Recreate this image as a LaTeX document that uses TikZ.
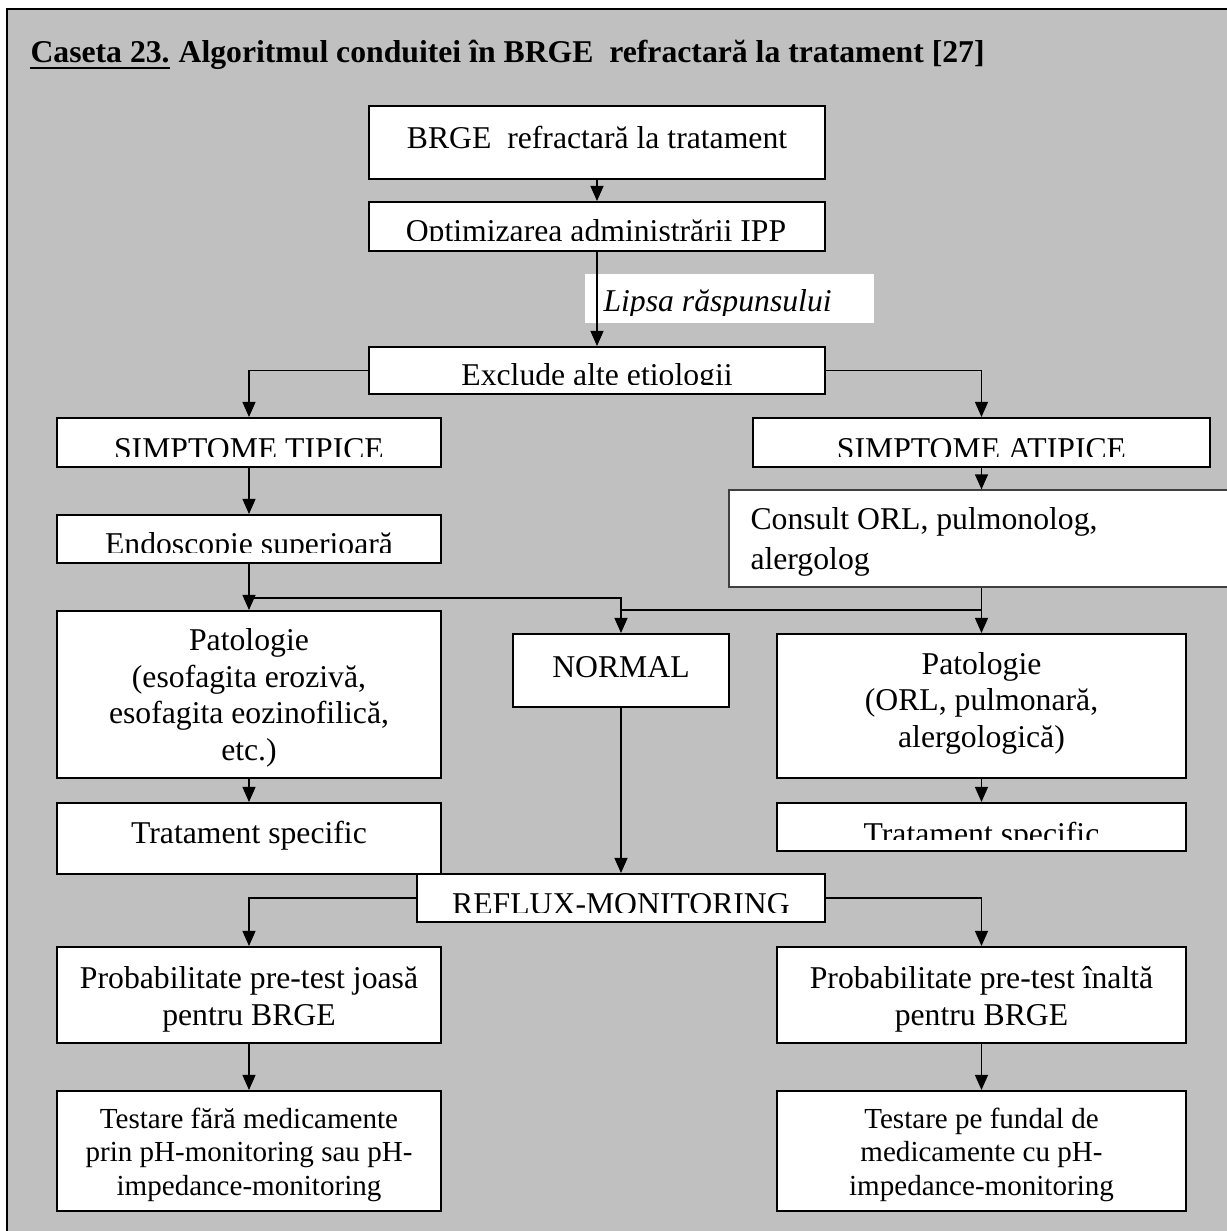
\documentclass[tikz,border=0pt]{standalone}
\usepackage{fontspec}
\setmainfont{Liberation Serif}
\usetikzlibrary{arrows.meta,fit}
\definecolor{bggray}{HTML}{C0C0C0}
\begin{document}
\begin{tikzpicture}[x=0.3785pt,y=-0.3785pt,
  frame/.style={fill=bggray,draw=black,line width=0.8pt},
  box/.style={draw=black,line width=0.75pt,fill=white,inner sep=0pt},
  thinbox/.style={draw=black!75,line width=0.45pt,fill=white,inner sep=0pt},
  txt/.style={inner sep=0pt,anchor=base,align=center,font=\fontsize{12}{13.8}\selectfont},
  smalltxt/.style={inner sep=0pt,anchor=base,align=center,font=\fontsize{11}{12.5}\selectfont},
  titletxt/.style={inner sep=0pt,anchor=base west,font=\bfseries\fontsize{12}{14}\selectfont},
  conn/.style={line width=0.55pt,-{Triangle[width=4.9pt,length=5.7pt]}},
  plain/.style={line width=0.55pt}]
\useasboundingbox (0,0) rectangle (1227,1231);
% outer frame
\path[frame] (7,9) rectangle (1245,1245);
% title
\node[titletxt] (cap) at (30,62) {Caseta 23.};
\node[titletxt] (ttl) at (cap.base east) {\ Algoritmul conduitei în BRGE\ \ refractară la tratament [27]};
\draw[line width=0.75pt] ([yshift=-2.3pt]cap.base west) -- ([yshift=-2.3pt]cap.base east);

% boxes
\node[box,fit={(369,106) (825,179)}] (b1) {};
\node[box,fit={(369,202) (825,251)}] (b2) {};
\node[fill=white,inner sep=0pt,fit={(585,274) (874,323)}] (lbl) {};
\node[box,fit={(369,347) (825,394)}] (b3) {};
\node[box,fit={(57,418) (441,467)}] (tipice) {};
\node[box,fit={(753,418) (1210,467)}] (atipice) {};
\node[box,fit={(57,515) (441,563)}] (endo) {};
\node[thinbox,fit={(729,490) (1245,587)}] (consult) {};
\node[box,fit={(57,611) (441,778)}] (patL) {};
\node[box,fit={(513,634) (729,707)}] (normal) {};
\node[box,fit={(777,634) (1186,778)}] (patR) {};
\node[box,fit={(57,803) (441,874)}] (tratL) {};
\node[box,fit={(777,803) (1186,851)}] (tratR) {};
\node[box,fit={(417,874) (825,922)}] (reflux) {};
\node[box,fit={(57,947) (441,1043)}] (probL) {};
\node[box,fit={(777,947) (1186,1043)}] (probR) {};
\node[box,fit={(57,1091) (441,1211)}] (testL) {};
\node[box,fit={(777,1091) (1186,1211)}] (testR) {};

% texts (multi-line nodes are anchored at the baseline of their last line)
\node[txt] (b1t) at (597,148) {BRGE\ \ refractară la tratament};
\begin{scope}
\clip (369,202) rectangle (825,240.5);
\node[txt] (b2t) at (596,241.5) {Optimizarea administrării IPP};
\end{scope}
\begin{scope}
\clip (585,274) rectangle (874,315);
\node[inner sep=0pt,anchor=base west,font=\itshape\fontsize{12}{14}\selectfont] (lblt) at (603,311) {Lipsa răspunsului};
\end{scope}
\begin{scope}
\clip (369,347) rectangle (825,384);
\node[txt] (b3t) at (597,385) {Exclude alte etiologii};
\end{scope}
\begin{scope}
\clip (57,418) rectangle (441,456.5);
\node[txt] (tipicet) at (249,459) {SIMPTOME TIPICE};
\end{scope}
\begin{scope}
\clip (753,418) rectangle (1210,456.5);
\node[txt] (atipicet) at (981.5,459) {SIMPTOME ATIPICE};
\end{scope}
\begin{scope}
\clip (57,515) rectangle (441,552);
\node[txt] (endot) at (249,554) {Endoscopie superioară};
\end{scope}
\node[inner sep=0pt,anchor=base west,align=left,font=\fontsize{12}{14.8}\selectfont] (consultt) at (750,569) {Consult ORL, pulmonolog,\\alergolog};
\node[txt] (patLt) at (249,760) {Patologie\\(esofagita erozivă,\\esofagita eozinofilică,\\etc.)};
\node[txt] (normalt) at (621,677) {NORMAL};
\node[txt] (patRt) at (981.5,747) {Patologie\\(ORL, pulmonară,\\alergologică)};
\node[txt] (tratLt) at (249,843) {Tratament specific};
\begin{scope}
\clip (777,803) rectangle (1186,839);
\node[txt] (tratRt) at (981.5,844) {Tratament specific};
\end{scope}
\begin{scope}
\clip (417,874) rectangle (825,912.5);
\node[txt] (refluxt) at (621,914) {REFLUX-MONITORING};
\end{scope}
\node[txt] (probLt) at (249,1025) {Probabilitate pre-test joasă\\pentru BRGE};
\node[txt] (probRt) at (981.5,1025) {Probabilitate pre-test înaltă\\pentru BRGE};
\node[smalltxt] (testLt) at (249,1195) {Testare fără medicamente\\prin pH-monitoring sau pH-\\impedance-monitoring};
\node[smalltxt] (testRt) at (981.5,1195) {Testare pe fundal de\\medicamente cu pH-\\impedance-monitoring};

% connectors
\draw[conn] (b1.south) -- (b2.north);
\draw[conn] (b2.south) -- (b3.north);
\draw[conn] (b3.west) -| (tipice.north);
\draw[conn] (b3.east) -| (atipice.north);
\draw[conn] (tipice.south) -- (endo.north);
\draw[conn] (atipice.south) -- (atipice.south |- consult.north);
\draw[conn] (endo.south) -- (patL.north);
\coordinate (j1) at (249,598);
\draw[conn] (j1) -| (normal.north);
\draw[conn] (atipice.south |- consult.south) -- (patR.north);
\coordinate (j2) at (981.5,610);
\coordinate (j3) at (621,610);
\draw[plain] (j2) -- (j3);
\draw[conn] (patL.south) -- (tratL.north);
\draw[conn] (patR.south) -- (tratR.north);
\draw[conn] (normal.south) -- (reflux.north);
\draw[conn] (reflux.west) -| (probL.north);
\draw[conn] (reflux.east) -| (probR.north);
\draw[conn] (probL.south) -- (testL.north);
\draw[conn] (probR.south) -- (testR.north);
\end{tikzpicture}
\end{document}
